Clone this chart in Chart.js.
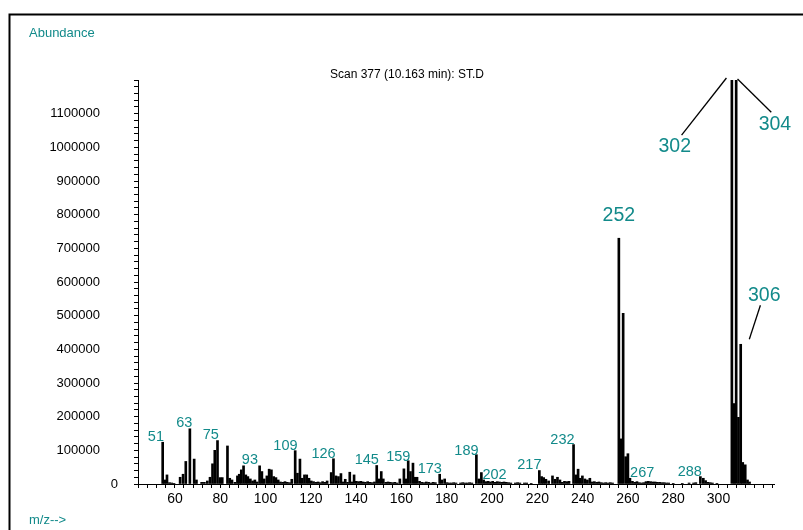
<!DOCTYPE html>
<html>
<head>
<meta charset="utf-8">
<script src="https://cdn.jsdelivr.net/npm/chart.js@4.4.0/dist/chart.umd.min.js"></script>
<style>
  html, body { margin: 0; padding: 0; background: #fff; }
  canvas { display: block; }
</style>
</head>
<body>
<canvas id="myChart" width="803" height="530"></canvas>
<script>
// bar positions as read on the m/z axis, and their abundance
const mzPos = [
  54.6, 55.5, 56.5, 57.6, 58.6, 59.6, 62.3, 63.6, 64.8, 66.6, 68.5, 69.5, 71.8, 73.0, 74.3, 75.5,
  76.6, 77.6, 78.8, 79.9, 80.9, 83.2, 84.2, 85.2, 86.5, 87.6, 88.4, 89.3, 90.3, 91.3, 92.2, 93.3,
  94.3, 95.3, 96.3, 97.4, 98.4, 99.4, 100.6, 101.6, 102.6, 103.6, 104.6, 105.6, 106.6, 107.6, 108.6, 109.6,
  110.6, 111.6, 113.1, 114.1, 115.2, 116.2, 117.2, 118.2, 119.2, 120.2, 121.2, 122.2, 123.2, 124.2, 125.2, 126.2,
  127.2, 129.0, 130.0, 131.1, 132.2, 133.3, 134.2, 135.2, 136.2, 137.2, 138.2, 139.1, 140.1, 141.1, 142.1, 143.1,
  144.1, 145.1, 146.1, 147.1, 148.1, 149.1, 150.2, 151.1, 152.0, 153.1, 154.1, 155.1, 156.1, 157.1, 158.1, 159.3,
  161.1, 162.0, 163.0, 164.0, 165.1, 166.0, 166.9, 168.0, 169.0, 170.0, 171.0, 172.0, 173.0, 174.0, 175.0, 176.9,
  177.9, 179.1, 180.1, 181.1, 182.1, 183.1, 184.1, 186.1, 187.1, 188.1, 189.1, 190.1, 191.1, 193.1, 194.2, 195.3,
  196.3, 197.3, 198.3, 199.3, 200.3, 201.3, 202.3, 203.3, 204.3, 205.3, 206.3, 207.3, 208.3, 210.3, 211.3, 212.3,
  214.3, 215.3, 217.3, 220.9, 221.9, 222.8, 223.8, 225.0, 226.7, 227.8, 228.9, 230.0, 231.0, 232.0, 233.0, 234.0,
  236.0, 237.0, 238.0, 238.9, 239.9, 241.0, 242.1, 243.2, 244.2, 245.2, 246.2, 247.2, 248.2, 249.2, 250.2, 251.2,
  252.2, 253.2, 256.0, 256.9, 257.9, 259.0, 260.0, 260.9, 262.0, 263.0, 264.0, 265.0, 266.0, 267.0, 268.0, 269.0,
  270.0, 271.0, 272.0, 273.0, 274.0, 275.0, 276.0, 277.0, 278.0, 280.0, 284.0, 287.0, 289.0, 290.0, 292.0, 293.3,
  294.3, 295.3, 296.3, 297.3, 299.3, 305.9, 306.9, 307.8, 308.8, 309.8, 310.7, 311.8, 312.8, 313.7
];
const abundance = [
  124000, 12000, 27000, 4000, 3000, 2000, 20000, 29000, 67000, 164000, 74000, 12000, 5000, 5000, 9000, 20000,
  60000, 100000, 129000, 19000, 19000, 113000, 17000, 12000, 5000, 24000, 29000, 42000, 54000, 27000, 22000, 15000,
  9000, 12000, 6000, 54000, 37000, 15000, 24000, 44000, 42000, 22000, 19000, 12000, 6000, 5000, 7000, 5000,
  4000, 14000, 99000, 32000, 74000, 17000, 27000, 27000, 17000, 9000, 7000, 5000, 6000, 4000, 7000, 5000,
  9000, 34000, 75000, 24000, 22000, 31000, 6000, 14000, 5000, 35000, 6000, 27000, 8000, 7000, 8000, 6000,
  5000, 7000, 5000, 4000, 6000, 55000, 15000, 37000, 15000, 5000, 6000, 5000, 4000, 5000, 3000, 15000,
  45000, 15000, 69000, 37000, 62000, 20000, 20000, 8000, 5000, 4000, 6000, 5000, 3000, 5000, 4000, 29000,
  12000, 15000, 4000, 3000, 3000, 4000, 3000, 3000, 4000, 3000, 3000, 4000, 3000, 87000, 15000, 34000,
  12000, 7000, 8000, 6000, 8000, 5000, 7000, 6000, 5000, 6000, 5000, 4000, 3000, 3000, 4000, 3000,
  3000, 3000, 2000, 40000, 22000, 19000, 14000, 9000, 24000, 14000, 20000, 12000, 5000, 8000, 7000, 8000,
  117000, 27000, 44000, 17000, 24000, 15000, 12000, 17000, 6000, 7000, 5000, 6000, 4000, 3000, 4000, 3000,
  4000, 3000, 730000, 134000, 507000, 81000, 90000, 17000, 8000, 5000, 7000, 4000, 3000, 4000, 7000, 8000,
  7000, 6000, 6000, 5000, 5000, 4000, 4000, 3000, 3000, 2000, 2000, 3000, 3000, 4000, 22000, 17000,
  10000, 5000, 4000, 3000, 2000, 1300000, 239000, 1300000, 198000, 415000, 64000, 57000, 12000, 6000
];

// peak labels: text, position (axis units), font size
const labelText = ['51', '63', '75', '93', '109', '126', '145', '159', '173', '189', '202', '217', '232', '252', '267', '288', '302', '304', '306'];
const labelX = [51.6, 64.1, 75.8, 93.1, 108.8, 125.6, 144.7, 158.6, 172.5, 188.7, 201.1, 216.5, 231.1, 256.0, 266.3, 287.3, 280.7, 324.9, 320.2];
const labelY = [139000, 181000, 146000, 72000, 114000, 89000, 70000, 81000, 44000, 99000, 27000, 57000, 131000, 798000, 32000, 37000, 1002000, 1066000, 561000];
const labelSize = [14.5, 14.5, 14.5, 14.5, 14.5, 14.5, 14.5, 14.5, 14.5, 14.5, 14.5, 14.5, 14.5, 19.5, 14.5, 14.5, 19.5, 19.5, 19.5];

// leader lines from big labels to their peaks
const leaderFrom = [[283.7, 1036000], [308.4, 1203000], [318.5, 531000]];
const leaderTo = [[303.5, 1206000], [323.3, 1104000], [313.6, 430000]];

const teal = '#128a8a';
const fontFam = '"Liberation Sans", Arial, sans-serif';
Chart.defaults.font.family = fontFam;

const overlay = {
  id: 'overlay',
  afterDraw(chart) {
    const { ctx, scales: { x, y } } = chart;
    ctx.save();
    // frame
    ctx.strokeStyle = '#000';
    ctx.lineWidth = 2;
    ctx.beginPath();
    ctx.moveTo(9.5, 540);
    ctx.lineTo(9.5, 14.5);
    ctx.lineTo(810, 14.5);
    ctx.stroke();

    ctx.textBaseline = 'middle';
    ctx.fillStyle = teal;
    ctx.font = '13px ' + fontFam;
    ctx.textAlign = 'left';
    ctx.fillText('Abundance', 29, 33);
    ctx.fillText('m/z-->', 29, 520);

    ctx.fillStyle = '#000';
    ctx.font = '12px ' + fontFam;
    ctx.textAlign = 'center';
    ctx.fillText('Scan 377 (10.163 min): ST.D', 407, 75);

    ctx.font = '13px ' + fontFam;
    ctx.textAlign = 'right';
    ctx.fillText('0', 118, y.getPixelForValue(0));

    ctx.fillStyle = teal;
    ctx.textAlign = 'center';
    labelText.forEach((t, i) => {
      ctx.font = labelSize[i] + 'px ' + fontFam;
      ctx.fillText(t, x.getPixelForValue(labelX[i]), y.getPixelForValue(labelY[i]));
    });

    ctx.strokeStyle = '#000';
    ctx.lineWidth = 1.3;
    leaderFrom.forEach((p, i) => {
      ctx.beginPath();
      ctx.moveTo(x.getPixelForValue(p[0]), y.getPixelForValue(p[1]));
      ctx.lineTo(x.getPixelForValue(leaderTo[i][0]), y.getPixelForValue(leaderTo[i][1]));
      ctx.stroke();
    });
    ctx.restore();
  }
};

const ctx = document.querySelector('#myChart');

const data = {
  datasets: [{
    label: 'Abundance',
    data: mzPos.map((m, i) => ({ x: m, y: abundance[i] })),
    backgroundColor: '#000',
    borderWidth: 0,
    barThickness: 2
  }]
};

const options = {
  responsive: false,
  animation: false,
  devicePixelRatio: 1,
  layout: { padding: { top: 80, right: 29, bottom: 16, left: 0 } },
  plugins: {
    legend: { display: false },
    tooltip: { enabled: false }
  },
  scales: {
    x: {
      type: 'linear',
      offset: false,
      min: 43.7,
      max: 324.5,
      afterFit: s => { s.height = 30; },
      border: { display: true, color: '#000', width: 1 },
      grid: { drawOnChartArea: false, offset: false, color: '#000', tickLength: 4, tickColor: '#000' },
      ticks: {
        stepSize: 4,
        includeBounds: false,
        autoSkip: false,
        maxRotation: 0,
        padding: 3,
        color: '#000',
        font: { size: 14 },
        callback: v => (v % 20 === 0 && v <= 300 ? String(v) : '')
      }
    },
    y: {
      type: 'linear',
      min: 0,
      max: 1200000,
      afterFit: s => { s.width = 138; },
      border: { display: true, color: '#000', width: 1 },
      grid: { drawOnChartArea: false, color: '#000', tickLength: 4, tickColor: '#000' },
      ticks: {
        stepSize: 20000,
        autoSkip: false,
        padding: 34,
        color: '#000',
        font: { size: 13 },
        callback: v => (v !== 0 && v < 1200000 && v % 100000 === 0 ? String(v) : '')
      }
    }
  }
};

const config = {
  type: 'bar',
  data: data,
  options: options,
  plugins: [overlay]
};

const chart = new Chart(ctx, config);
</script>
</body>
</html>
